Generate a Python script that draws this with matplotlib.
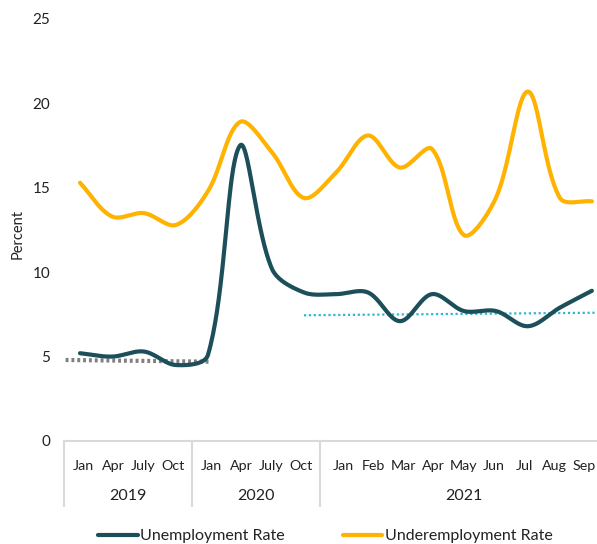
"""
Unemployment vs underemployment rate, Jan 2019 - Sep 2021.
Smoothed lines (spreadsheet-style Bezier smoothing) with two reference
trend lines and a two-level month / year axis.
"""

import numpy as np
import matplotlib

matplotlib.use("Agg")
import matplotlib.pyplot as plt  # noqa: E402
from matplotlib import transforms  # noqa: E402

plt.rcParams["font.family"] = ["Lato", "DejaVu Sans"]

# ---- data -------------------------------------------------------------
MONTHS = ["Jan", "Apr", "July", "Oct",
          "Jan", "Apr", "July", "Oct",
          "Jan", "Feb", "Mar", "Apr", "May", "Jun", "Jul", "Aug", "Sep"]
YEARS = ["2019", "2020", "2021"]
YEAR_SIZES = [4, 4, 9]

UNEMPLOYMENT = [5.2, 5.0, 5.3, 4.5, 5.1, 17.5, 10.2, 8.8, 8.7,
                8.8, 7.1, 8.7, 7.7, 7.7, 6.8, 7.9, 8.9]
UNDEREMPLOYMENT = [15.3, 13.3, 13.5, 12.8, 14.8, 18.9, 17.1, 14.4, 15.9,
                   18.1, 16.2, 17.3, 12.2, 14.4, 20.7, 14.4, 14.2]

# pre-pandemic and 2021 reference levels (start, end)
TREND_PRE = [4.8, 4.7]
TREND_PRE_SPAN = [-0.45, 4.05]
TREND_POST = [7.45, 7.6]
TREND_POST_SPAN = [7.0, 16.2]

C_UNEMP = "#1c4f5a"
C_UNDER = "#ffb300"
C_TREND_PRE = "#808080"
C_TREND_POST = "#2bb8d0"
C_AXIS = "#d9d9d9"
C_TEXT = "#222222"

PX_X, PX_Y = 32.0, 16.88  # screen pixels per x category / per percent


def smooth(y, n=40):
    """Bezier smoothing like a spreadsheet 'smoothed line' (screen-space)."""
    pts = np.column_stack([np.arange(len(y)) * PX_X, np.asarray(y, float) * PX_Y])
    ext = np.vstack([pts[0], pts, pts[-1]])
    t = np.linspace(0, 1, n, endpoint=False)[:, None]
    out = []
    for i in range(1, len(ext) - 2):
        p0, p1, p2, p3 = ext[i - 1], ext[i], ext[i + 1], ext[i + 2]
        d01 = np.hypot(*(p1 - p0))
        d12 = np.hypot(*(p2 - p1))
        d23 = np.hypot(*(p3 - p2))
        c1 = p1 + (p2 - p0) / 3 * d12 / max(d01 + d12, 1e-9)
        c2 = p2 - (p3 - p1) / 3 * d12 / max(d12 + d23, 1e-9)
        seg = ((1 - t) ** 3 * p1 + 3 * (1 - t) ** 2 * t * c1
               + 3 * (1 - t) * t ** 2 * c2 + t ** 3 * p2)
        out.append(seg)
    out.append(pts[-1:])
    out = np.vstack(out)
    return out[:, 0] / PX_X, out[:, 1] / PX_Y


fig = plt.figure(figsize=(5.97, 5.44), dpi=100)
ax = fig.add_axes([64 / 597, 103 / 544, 1 - 64 / 597, 422 / 544])

x_u, y_u = smooth(UNEMPLOYMENT)
x_d, y_d = smooth(UNDEREMPLOYMENT)
ax.plot(x_u, y_u, color=C_UNEMP, lw=3, solid_capstyle="round",
        label="Unemployment Rate", zorder=3)
ax.plot(x_d, y_d, color=C_UNDER, lw=3, solid_capstyle="round",
        label="Underemployment Rate", zorder=3)

ax.plot(TREND_PRE_SPAN, TREND_PRE, color=C_TREND_PRE, lw=3,
        linestyle=(0, (0.7, 0.7)), zorder=2)
ax.plot(TREND_POST_SPAN, TREND_POST, color=C_TREND_POST, lw=1.6,
        linestyle=(0, (1, 1.2)), zorder=2)

ax.set_xlim(-0.5, 16.16)
ax.set_ylim(0, 25)
ax.set_yticks([0, 5, 10, 15, 20, 25])
ax.tick_params(axis="y", length=0, labelsize=11, pad=10, labelcolor=C_TEXT)
ax.set_xticks([])
ax.set_ylabel("Percent", fontsize=10.5, color=C_TEXT)
ax.yaxis.set_label_coords(-0.074, 0.49)
for side in ("top", "right", "left"):
    ax.spines[side].set_visible(False)
ax.spines["bottom"].set_color(C_AXIS)
ax.spines["bottom"].set_linewidth(1.5)

# two-level category axis: month labels sit a bit tighter than the data
trans = transforms.blended_transform_factory(ax.transData, ax.transAxes)
start = 0
for year, size in zip(YEARS, YEAR_SIZES):
    ax.plot([start - 0.5, start - 0.5], [0, -0.155], transform=trans,
            color=C_AXIS, lw=1.5, clip_on=False)
    center = start + (size - 1) / 2
    for j in range(size):
        ax.text(center + (j - (size - 1) / 2) * 0.94, -0.06, MONTHS[start + j],
                transform=trans, ha="center", va="center",
                fontsize=10.3, color=C_TEXT)
    ax.text(center, -0.13, year, transform=trans,
            ha="center", va="center", fontsize=11.5, color=C_TEXT)
    start += size

fig.legend(loc="center", bbox_to_anchor=(0.545, 1 - 536 / 544), ncol=2,
           frameon=False, fontsize=11.5, handlelength=2.5, handletextpad=0.15,
           columnspacing=3.6, labelcolor=C_TEXT)

fig.savefig("out.png", dpi=100)
